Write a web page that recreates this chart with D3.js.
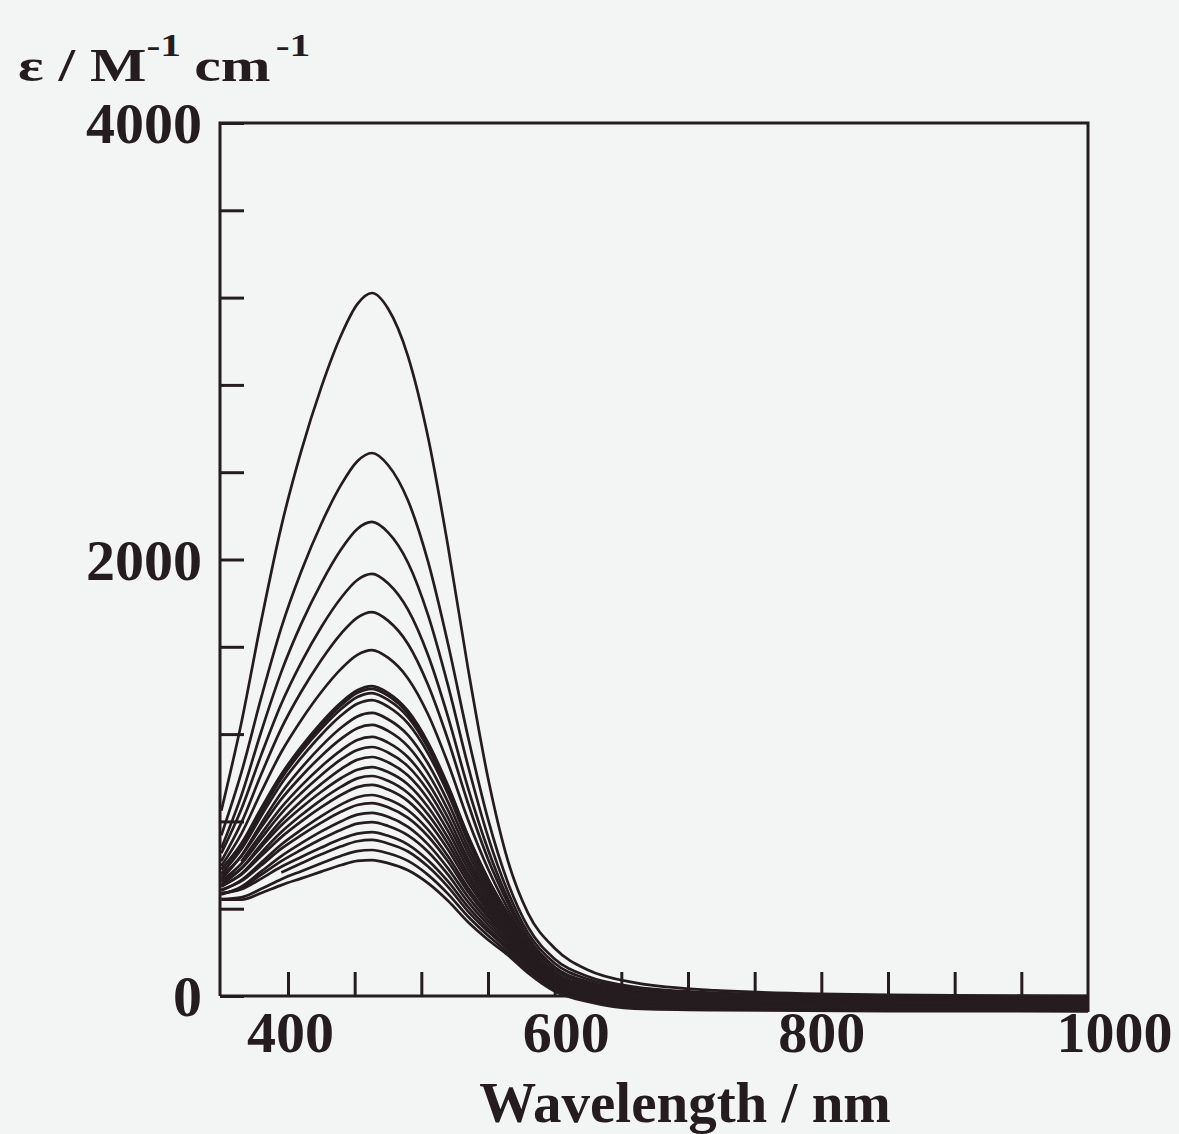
<!DOCTYPE html>
<html>
<head>
<meta charset="utf-8">
<script src="https://cdn.jsdelivr.net/npm/d3@7"></script>
<style>
  html, body { margin: 0; padding: 0; background: #f3f4f4; }
  svg { display: block; }
  text { font-family: "Liberation Serif", "Times New Roman", serif; font-weight: bold; fill: #241c1e; }
</style>
</head>
<body>
<svg id="chart" width="1179" height="1134"></svg>
<script>
// Wavelength grid (nm) shared by every spectrum
const wavelengths = [350, 365, 380, 395, 410, 425, 440, 452, 463, 475, 490, 505, 520, 535, 550, 565, 580, 600, 625, 660, 720, 850, 1000];

// Molar absorptivity (M^-1 cm^-1) of each spectrum in the titration series; null = not recorded
const epsilonSeries = [
  [849, 1251, 1721, 2152, 2499, 2790, 3030, 3170, 3221, 3150, 2931, 2561, 2061, 1501, 999, 618, 380, 219, 119, 61, 26, 5, 0],
  [736, 1023, 1369, 1688, 1946, 2164, 2344, 2450, 2488, 2433, 2270, 1991, 1614, 1188, 810, 518, 316, 170, 89, 42, 15, -1, -5],
  [677, 918, 1213, 1485, 1706, 1892, 2048, 2140, 2172, 2124, 1985, 1746, 1423, 1055, 730, 476, 289, 150, 77, 36, 12, -2, -5],
  [655, 856, 1106, 1339, 1529, 1691, 1826, 1906, 1934, 1891, 1770, 1562, 1279, 954, 671, 444, 269, 133, 65, 27, 5, -7, -10],
  [618, 793, 1017, 1226, 1395, 1540, 1662, 1734, 1759, 1720, 1613, 1426, 1174, 883, 628, 424, 256, 122, 58, 23, 4, -7, -10],
  [596, 743, 936, 1118, 1265, 1393, 1500, 1563, 1585, 1550, 1455, 1291, 1066, 808, 583, 398, 240, 109, 48, 15, -2, -13, -15],
  [580, 699, 862, 1016, 1143, 1253, 1346, 1401, 1420, 1389, 1306, 1161, 964, 735, 537, 373, 223, 96, 39, 7, -9, -18, -20],
  [558, 681, 845, 1001, 1129, 1239, 1333, 1389, 1407, 1376, 1294, 1152, 957, 732, 536, 373, 223, 94, 35, 2, -14, -23, -25],
  [580, 693, 849, 997, 1120, 1225, 1316, 1370, 1388, 1357, 1278, 1137, 946, 724, 532, 371, 222, 96, 41, 11, -4, -13, -15],
  [560, 672, 826, 973, 1092, 1197, 1286, 1339, 1356, 1326, 1249, 1112, 927, 709, 522, 365, 218, 88, 29, -4, -19, -28, -30],
  [536, 643, 791, 931, 1045, 1145, 1230, 1281, 1297, 1268, 1195, 1065, 888, 681, 504, 354, 211, 88, 34, 5, -10, -18, -20],
  [548, 641, 774, 902, 1007, 1100, 1179, 1227, 1242, 1215, 1144, 1020, 852, 655, 485, 341, 203, 79, 22, -11, -25, -33, -35],
  [null, 616, 743, 864, 964, 1052, 1127, 1173, 1187, 1161, 1094, 977, 817, 628, 468, 331, 197, 79, 27, -2, -16, -23, -25],
  [527, 606, 723, 837, 930, 1013, 1085, 1127, 1141, 1116, 1052, 940, 786, 606, 452, 320, 189, 71, 14, -18, -31, -38, -40],
  [510, 584, 696, 804, 894, 972, 1041, 1082, 1095, 1071, 1010, 903, 756, 583, 436, 309, 183, 70, 20, -9, -21, -28, -30],
  [523, 584, 684, 782, 863, 936, 999, 1037, 1049, 1026, 969, 866, 725, 560, 420, 298, 175, 61, 8, -25, -37, -43, -45],
  [501, 560, 657, 751, 829, 899, 959, 997, 1008, 986, 930, 832, 698, 540, 405, 290, 171, 63, 13, -16, -27, -33, -35],
  [505, 556, 642, 728, 800, 865, 922, 957, 967, 946, 893, 799, 671, 520, 391, 280, 163, 55, 1, -32, -42, -49, -50],
  [483, 531, 612, 694, 762, 824, 878, 911, 921, 901, 851, 762, 640, 496, 375, 268, 158, 55, 6, -23, -33, -39, -40],
  [487, 526, 599, 675, 737, 794, 845, 875, 884, 865, 816, 732, 616, 478, 361, 260, 150, 47, -6, -38, -48, -54, -55],
  [465, 501, 571, 641, 700, 754, 801, 831, 839, 821, 775, 695, 585, 454, 344, 247, 144, 47, -1, -29, -38, -44, -45],
  [469, 495, 556, 618, 670, 719, 762, 790, 797, 779, 736, 661, 556, 431, 327, 236, 135, 38, -13, -45, -54, -59, -60],
  [471, 489, 538, 592, 637, 680, 720, 744, 751, 734, 694, 622, 525, 408, 309, 223, 129, 39, -7, -36, -44, -49, -50],
  [null, null, null, 566, 608, 649, 686, 709, 715, 699, 662, 593, 500, 388, 296, 213, 121, 31, -20, -51, -59, -64, -65],
  [444, 452, 491, 535, 572, 608, 643, 664, 669, 654, 619, 555, 468, 364, 277, 199, 114, 31, -14, -42, -50, -54, -55],
  [442, 441, 472, 508, 539, 570, 600, 619, 623, 609, 576, 517, 436, 339, 258, 187, 106, 22, -26, -58, -65, -69, -70]
];

// Axis ticks and labels
const yTickValues = [0, 400, 800, 1200, 1600, 2000, 2400, 2800, 3200, 3600, 4000];
const yLabelValues = [0, 2000, 4000];
const xTickValues = [400, 450, 500, 550, 600, 650, 700, 750, 800, 850, 900, 950];
const xLabelValues = [400, 600, 800, 1000];
const xTitle = "Wavelength / nm";

// Plot geometry
const frame = { left: 220, right: 1088, top: 123, bottom: 996 };
const ink = "#241c1e";
const xLabelNudge = { 400: 2, 600: 11, 800: 0, 1000: 26 };

const svg = d3.select("#chart");

const x = d3.scaleLinear().domain([349, 1000]).range([frame.left, frame.right]);
const y = d3.scaleLinear().domain([0, 4000]).range([frame.bottom, frame.top]);

// Spectra
const line = d3.line()
  .defined(d => d[1] !== null)
  .x(d => x(d[0]))
  .y(d => y(d[1]))
  .curve(d3.curveMonotoneX);

svg.append("g")
  .selectAll("path")
  .data(epsilonSeries)
  .join("path")
  .attr("d", s => line(wavelengths.map((w, i) => [w, s[i]])))
  .attr("fill", "none")
  .attr("stroke", ink)
  .attr("stroke-width", 2.7)
  .attr("stroke-linejoin", "round");

// Frame
svg.append("path")
  .attr("d", `M${frame.left},${frame.bottom}V${frame.top}H${frame.right}V${frame.bottom + 16}`)
  .attr("fill", "none")
  .attr("stroke", ink)
  .attr("stroke-width", 3);

// Left axis: inward ticks
const yAxis = d3.axisLeft(y)
  .tickValues(yTickValues)
  .tickSizeInner(-24)
  .tickSizeOuter(0)
  .tickPadding(18)
  .tickFormat(d => yLabelValues.includes(d) ? String(d) : "");

const gy = svg.append("g")
  .attr("transform", `translate(${frame.left},0)`)
  .call(yAxis);
gy.select(".domain").remove();
gy.selectAll(".tick line").attr("stroke", ink).attr("stroke-width", 3);
gy.selectAll(".tick text")
  .attr("font-size", 58)
  .attr("font-family", null)
  .attr("fill", ink)
  .attr("dy", "0.34em");

// Bottom axis: inward ticks
const xAxis = d3.axisBottom(x)
  .tickValues(xTickValues.concat([1000]))
  .tickSizeInner(-24)
  .tickSizeOuter(0)
  .tickPadding(15)
  .tickFormat(d => xLabelValues.includes(d) ? String(d) : "");

const gx = svg.append("g")
  .attr("transform", `translate(0,${frame.bottom})`)
  .call(xAxis);
gx.select(".domain").remove();
gx.selectAll(".tick line")
  .attr("stroke", ink)
  .attr("stroke-width", 3)
  .attr("display", d => d === 1000 ? "none" : null);
gx.selectAll(".tick text")
  .attr("font-size", 58)
  .attr("font-family", null)
  .attr("fill", ink)
  .attr("dx", d => xLabelNudge[d] || 0);

// Bottom axis line
svg.append("line")
  .attr("x1", frame.left).attr("x2", frame.right)
  .attr("y1", frame.bottom).attr("y2", frame.bottom)
  .attr("stroke", ink).attr("stroke-width", 3);

// Axis titles
svg.append("text")
  .attr("x", 685)
  .attr("y", 1122)
  .attr("text-anchor", "middle")
  .attr("font-size", 57)
  .text(xTitle);

const yTitle = svg.append("text")
  .attr("transform", "translate(18,81) scale(1.3,1)")
  .attr("font-size", 46);
yTitle.append("tspan").text("\u03b5 / M");
yTitle.append("tspan").attr("font-size", 32).attr("dy", -25).text("-1");
yTitle.append("tspan").attr("dy", 25).attr("dx", 10).text("cm");
yTitle.append("tspan").attr("font-size", 32).attr("dy", -25).attr("dx", 4).text("-1");
</script>
</body>
</html>
